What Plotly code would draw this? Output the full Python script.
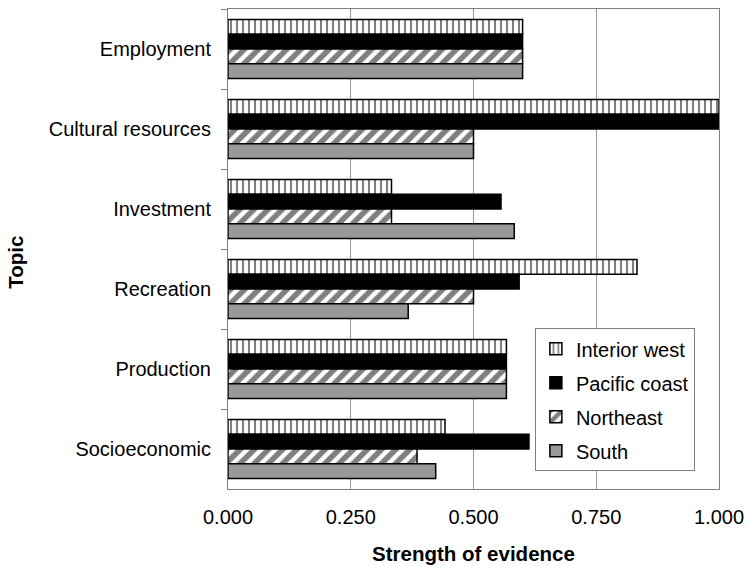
import plotly.graph_objects as go

topics = ["Employment", "Cultural resources", "Investment", "Recreation", "Production", "Socioeconomic"]
interior_west = [0.600, 1.000, 0.333, 0.833, 0.567, 0.442]
pacific_coast = [0.600, 1.000, 0.556, 0.593, 0.567, 0.613]
northeast = [0.600, 0.500, 0.333, 0.500, 0.567, 0.385]
south = [0.600, 0.500, 0.583, 0.367, 0.567, 0.423]
x_ticks = [0, 0.25, 0.5, 0.75, 1.0]
x_tick_text = ["0.000", "0.250", "0.500", "0.750", "1.000"]

FONT = "Liberation Sans, Arial, sans-serif"

series = [
    ("Interior west", interior_west, dict(color="white", pattern=dict(shape="|", fgcolor="black", bgcolor="white", size=6, solidity=0.35))),
    ("Pacific coast", pacific_coast, dict(color="black")),
    ("Northeast", northeast, dict(color="white", pattern=dict(shape="/", fgcolor="black", bgcolor="white", size=10, solidity=0.55))),
    ("South", south, dict(color="#999999")),
]

fig = go.Figure()
for i, (name, vals, mk) in enumerate(series):
    mk = dict(mk)
    mk["line"] = dict(color="black", width=1.5)
    fig.add_trace(go.Bar(
        y=topics, x=vals, name=name, orientation="h",
        marker=mk, legendgroup=f"g{i}",
    ))

fig.update_layout(
    width=747, height=567,
    margin=dict(l=228, r=28, t=9, b=78),
    paper_bgcolor="white", plot_bgcolor="white",
    barmode="group", bargap=0.26, bargroupgap=0,
    font=dict(family=FONT, size=20, color="black"),
    showlegend=True,
    legend=dict(
        x=0.625, y=0.335, xanchor="left", yanchor="top",
        bordercolor="#808080", borderwidth=1, bgcolor="white",
        font=dict(size=20), traceorder="grouped", tracegroupgap=5,
    ),
    xaxis=dict(
        range=[0, 1.0], tickvals=x_ticks, ticktext=x_tick_text,
        showgrid=True, gridcolor="#999999", gridwidth=1,
        showline=True, linecolor="#808080", linewidth=1, mirror=True,
        ticks="outside", ticklen=10, tickcolor="rgba(0,0,0,0)",
        tickfont=dict(size=20), zeroline=False, automargin=False,
        title=dict(text="<b>Strength of evidence</b>", font=dict(size=20.5), standoff=19),
    ),
    yaxis=dict(
        categoryorder="array", categoryarray=topics, autorange="reversed",
        showline=True, linecolor="#808080", linewidth=1, mirror=True,
        ticks="outside", ticklen=6, tickcolor="#808080", tickson="boundaries",
        ticklabelstandoff=12, tickfont=dict(size=20), showgrid=False,
        automargin=False,
    ),
    annotations=[dict(
        text="<b>Topic</b>", textangle=-90, showarrow=False,
        xref="paper", yref="paper", x=-0.432, y=0.473,
        xanchor="center", yanchor="middle", font=dict(size=20.5),
    )],
)

fig.write_html("out.html")
